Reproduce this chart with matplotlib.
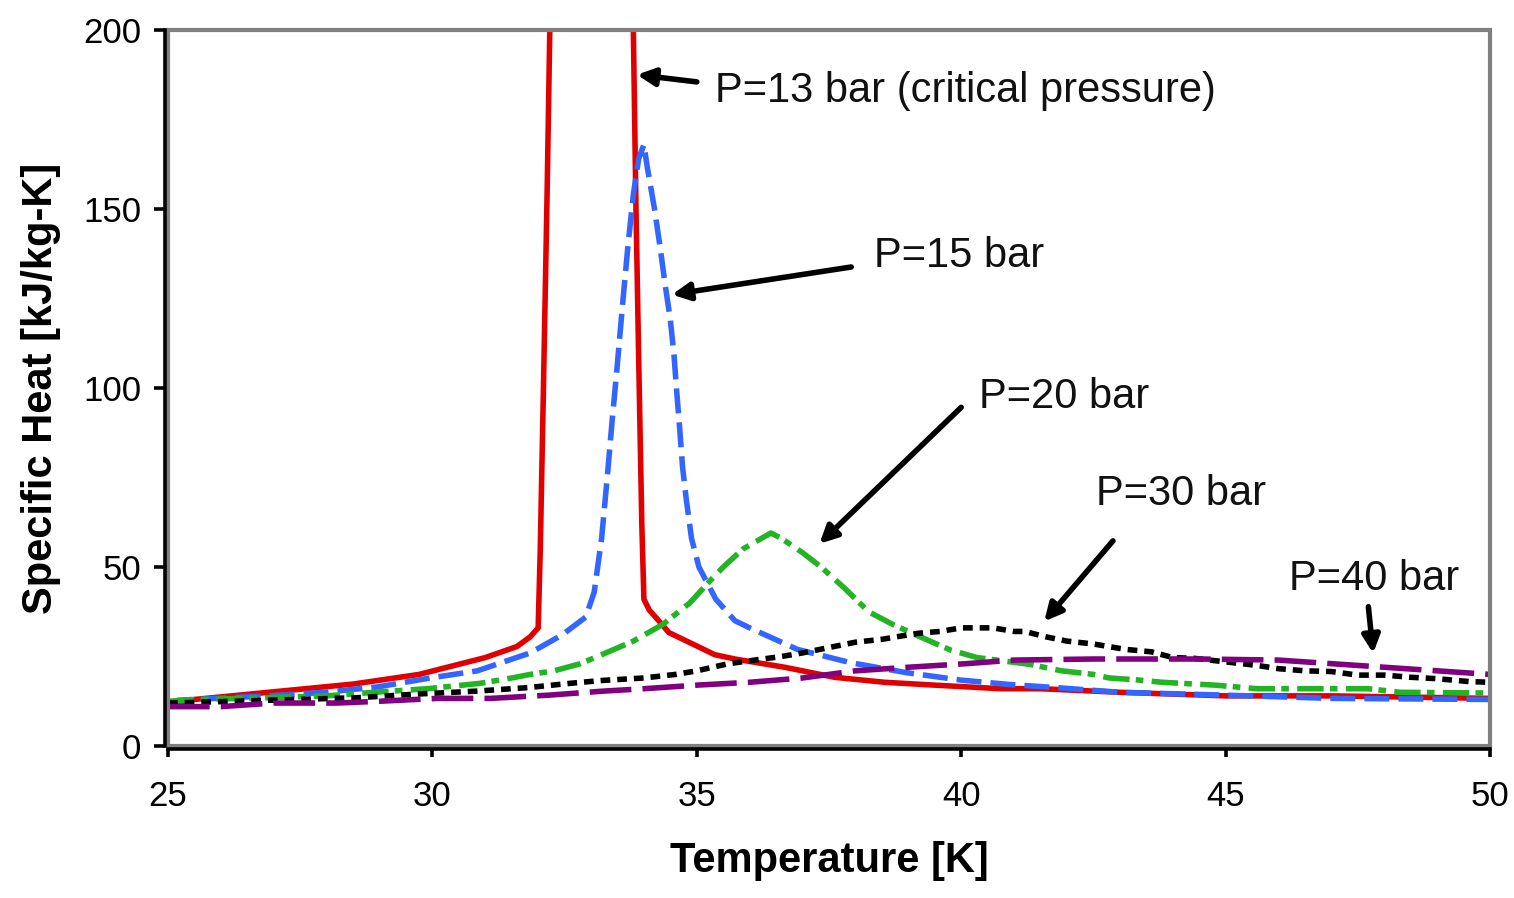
import numpy as np
import matplotlib
matplotlib.use("Agg")
import matplotlib.pyplot as plt
from matplotlib.patches import Rectangle

plt.rcParams['font.family'] = ['Liberation Sans', 'DejaVu Sans']
plt.rcParams['lines.scale_dashes'] = False

# P = 13 bar (critical pressure)
T_13 = [25.0, 25.5, 26.9, 28.5, 29.75, 31.0, 31.6, 31.85, 32.0, 32.04, 32.1, 32.17,
        32.22, 32.25, 33.77, 33.80, 33.85, 33.9, 33.96, 34.0, 34.1, 34.28, 34.47,
        34.85, 35.34, 35.72, 36.66, 37.6, 38.55, 39.5, 40.75, 41.5, 43.0, 45.0, 47.0, 50.0]
cp_13 = [11.5, 13, 15, 17.3, 20, 24.7, 27.8, 30.5, 33, 55, 100, 155,
         200, 240, 240, 200, 150, 109, 62, 41, 38, 35, 31.7,
         29, 25.5, 24.3, 22, 19.2, 17.8, 17, 16, 16, 15, 14, 14, 13.3]

# P = 15 bar
T_15 = [25.0, 25.2, 26.9, 27.96, 28.96, 29.96, 30.85, 31.85, 32.45, 32.9, 33.06, 33.2,
        33.3, 33.4, 33.5, 33.6, 33.7, 33.8, 33.9, 34.0, 34.06, 34.2, 34.3, 34.4, 34.5,
        34.57, 34.62, 34.68, 34.73, 34.8, 34.9, 35.04, 35.36, 35.72, 36.0, 36.9, 37.9,
        38.96, 40.0, 40.9, 41.9, 43.0, 45.0, 47.0, 50.0]
cp_15 = [12.0, 12.8, 14, 15, 16.5, 19, 21, 26, 31, 36, 43, 58,
         74, 91, 107, 124, 140, 154, 164, 168, 162, 150, 140, 129, 119,
         109, 99, 88, 78, 69, 58, 50, 41, 35, 33, 27, 23.3,
         20.5, 18.4, 17.2, 16.2, 15, 14.2, 13.3, 13]

# P = 20 bar
T_20 = [25.0, 25.7, 28.0, 28.9, 29.9, 30.9, 31.5, 31.85, 32.3, 32.8, 33.2, 33.8, 34.36,
        34.87, 35.26, 35.5, 35.87, 36.4, 36.6, 37.0, 37.35, 37.8, 38.25, 38.7, 39.3, 39.8,
        40.3, 41.3, 41.9, 42.5, 42.8, 43.3, 43.8, 44.8, 45.6, 47.7, 48.3, 50.0]
cp_20 = [12.5, 13, 14, 15, 16, 17.5, 19, 20, 21, 23, 25.5, 29.3, 34,
         40, 46.3, 50, 55, 59.5, 58, 54, 50, 44, 37.5, 34, 30, 26.8,
         24.7, 22.8, 21, 20, 19, 18.5, 17.8, 17, 16, 16, 15, 14.8]

# P = 30 bar
T_30 = [25.0, 26.5, 28.6, 29.7, 30.8, 31.8, 32.6, 33.2, 34.0, 34.6, 35.0, 35.3, 35.6,
        36.1, 36.6, 37.0, 37.5, 38.0, 38.5, 38.9, 39.2, 39.6, 40.0, 40.6, 41.0, 41.2,
        41.6, 42.0, 42.5, 42.9, 43.1, 43.6, 44.0, 44.4, 45.0, 45.6, 46.0, 46.5, 47.0,
        47.5, 48.0, 48.5, 49.0, 49.6, 50.0]
cp_30 = [12, 12.6, 13.5, 14.5, 15.3, 16.3, 17.5, 18.3, 19, 20, 21, 22, 23,
         24, 25, 26, 27.5, 29, 29.8, 30.8, 31.5, 32, 33, 33, 32, 32,
         30.5, 29.3, 28.5, 27.5, 27, 26.3, 24.7, 24.5, 23.5, 22.5, 21.6, 21, 20.8,
         19.8, 19.8, 19.2, 18.8, 18, 17.8]

# P = 40 bar
T_40 = [25.0, 26.0, 27.0, 28.2, 29.0, 30.1, 31.1, 32.2, 33.2, 34.0, 35.0, 36.0, 37.0,
        38.0, 39.0, 40.1, 41.0, 42.5, 44.5, 46.0, 47.0, 48.0, 49.0, 50.0]
cp_40 = [11, 11, 12, 12, 12.5, 13.3, 13.3, 14.2, 15.3, 16, 17, 17.8, 19,
         21, 22, 23, 24, 24.3, 24.3, 24, 23, 22, 21, 20]

labels = ['P=13 bar (critical pressure)', 'P=15 bar', 'P=20 bar', 'P=30 bar', 'P=40 bar']
label_xy = [(35.34, 183), (38.36, 137), (40.34, 97.6), (42.55, 70.4), (46.19, 46.7)]
arrow_tail = [(35.0, 185.5), (37.92, 133.8), (40.0, 94.6), (42.87, 57.3), (47.7, 38.9)]
arrow_head = [(33.87, 187.5), (34.53, 126.1), (37.32, 56.5), (41.57, 34.8), (47.79, 25.9)]

fig = plt.figure(figsize=(15.14, 8.98), dpi=100)
W, H = 1514, 898
ax = fig.add_axes([168 / W, (H - 746) / H, (1490 - 168) / W, (746 - 30) / H])

lw = 4.0
ax.plot(T_13, cp_13, color='#e00000', lw=lw, solid_joinstyle='miter')
ax.plot(T_15, cp_15, color='#3366ff', lw=lw, dashes=(18, 6.5))
ax.plot(T_20, cp_20, color='#22b422', lw=lw, dashes=(19, 4.5, 5.5, 6))
ax.plot(T_30, cp_30, color='black', lw=lw, dashes=(7, 5))
ax.plot(T_40, cp_40, color='#800080', lw=lw, dashes=(30, 8))

for lab, xy, tail, head in zip(labels, label_xy, arrow_tail, arrow_head):
    ax.text(xy[0], xy[1], lab, fontsize=30, va='center', ha='left', color='#111111')
    ax.annotate('', xy=head, xytext=tail,
                arrowprops=dict(arrowstyle='-|>', lw=4, color='black',
                                mutation_scale=26, shrinkA=0, shrinkB=0))

ax.set_xlim(25, 50)
ax.set_ylim(0, 200)
ax.set_xticks([25, 30, 35, 40, 45, 50])
ax.set_yticks([0, 50, 100, 150, 200])

ax.add_patch(Rectangle((0, 0), 1, 1, transform=ax.transAxes, fill=False,
                       edgecolor='#808080', lw=3, clip_on=False, zorder=5))
for s in ['top', 'right']:
    ax.spines[s].set_visible(False)
for s in ['left', 'bottom']:
    ax.spines[s].set_linewidth(2.6)
    ax.spines[s].set_position(('outward', 2.4))
    ax.spines[s].set_zorder(6)

ax.tick_params(axis='x', direction='out', length=6, width=2.6, pad=16, labelsize=25)
ax.tick_params(axis='y', direction='out', length=8, width=2.6, pad=9, labelsize=25)

ax.set_xlabel('Temperature [K]', fontsize=30, fontweight='bold', labelpad=20)
ax.set_ylabel('Specific Heat [kJ/kg-K]', fontsize=30, fontweight='bold', labelpad=16)

fig.savefig('out.png', dpi=100)
